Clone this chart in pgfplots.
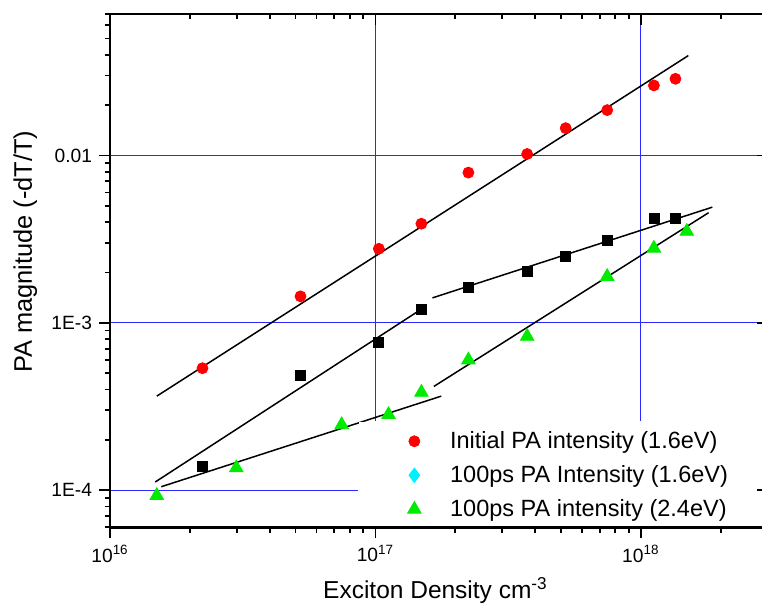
\documentclass[border=0pt]{standalone}
\usepackage{fontspec}
\setmainfont{Liberation Sans}
\usepackage{pgfplots}
\pgfplotsset{compat=1.18}
\definecolor{gridblue}{RGB}{40,40,255}
\definecolor{mgreen}{RGB}{0,235,0}
\definecolor{mcyan}{RGB}{0,240,255}
\newcommand{\tf}{\fontsize{9.6}{11}\selectfont}
\begin{document}
\begin{tikzpicture}
\begin{axis}[
  name=main,
  xmode=log, ymode=log,
  scale only axis, width=328.7pt, height=256.7pt,
  xmin=1e16, xmax=3e18, ymin=6e-5, ymax=0.07,
  xtick={1e16,1e17,1e18},
  ytick={1e-4,1e-3,1e-2},
  minor xtick={2e16,3e16,4e16,5e16,6e16,7e16,8e16,9e16,2e17,3e17,4e17,5e17,6e17,7e17,8e17,9e17,2e18,3e18},
  minor ytick={6e-5,7e-5,8e-5,9e-5,2e-4,3e-4,4e-4,5e-4,6e-4,7e-4,8e-4,9e-4,2e-3,3e-3,4e-3,5e-3,6e-3,7e-3,8e-3,9e-3,2e-2,3e-2,4e-2,5e-2,6e-2,7e-2},
  major tick length=5.5pt, minor tick length=2.75pt,
  every tick/.style={black, line width=0.9pt},
  axis line style={line width=1.3pt},
  xtick pos=left, ytick pos=left, tick align=outside,
  xticklabels={{\tf 10\textsuperscript{16}},{\tf 10\textsuperscript{17}},{\tf 10\textsuperscript{18}}},
  yticklabels={{\tf 1E-4},{\tf 1E-3},{\tf 0.01}},
  xticklabel style={font=\tf},
  yticklabel style={font=\tf},
  xlabel style={font=\fontsize{12.25}{14}\selectfont, at={(axis description cs:0.495,-0.123)}, anchor=center},
  ylabel style={font=\fontsize{12.7}{14}\selectfont, at={(axis description cs:-0.129,0.537)}, anchor=center},
  xlabel={Exciton Density cm\textsuperscript{-3}},
  ylabel={PA magnitude (-dT/T)},
  legend cell align=left,
  legend style={
    at={(rel axis cs:0.3775,0.206)}, anchor=north west,
    draw=none, fill=white,
    font=\fontsize{11.75}{14}\selectfont,
    inner xsep=24.5pt, inner ysep=2.6pt,
    row sep=3pt, column sep=12.5pt,
  },
]
% grid lines
\addplot[gridblue, line width=0.6pt, forget plot] coordinates {(1e16,1e-2) (3e18,1e-2)};
\addplot[gridblue, line width=0.6pt, forget plot] coordinates {(1e16,1e-3) (3e18,1e-3)};
\addplot[gridblue, line width=0.6pt, forget plot] coordinates {(1e16,1e-4) (8.6e16,1e-4)};
\addplot[gridblue, line width=0.6pt, forget plot] coordinates {(1e17,2.6e-4) (1e17,0.07)};
\addplot[gridblue, line width=0.6pt, forget plot] coordinates {(1e18,2.6e-4) (1e18,0.07)};
% fit lines
\addplot[black, line width=0.75pt, forget plot] coordinates {(1.50e16,3.65e-4) (1.51e18,3.95e-2)};
\addplot[black, line width=0.75pt, forget plot] coordinates {(1.48e16,1.12e-4) (1.445e17,1.17e-3)};
\addplot[black, line width=0.75pt, forget plot] coordinates {(1.64e17,1.41e-3) (1.86e18,4.91e-3)};
\addplot[black, line width=0.75pt, forget plot] coordinates {(1.56e16,1.05e-4) (1.77e17,3.65e-4)};
\addplot[black, line width=0.75pt, forget plot] coordinates {(1.66e17,4.17e-4) (1.80e18,4.55e-3)};
% black squares
\addplot[only marks, mark=square*, mark size=2.5pt, black, forget plot] coordinates {
(2.23e16,1.39e-4) (5.22e16,4.85e-4) (1.03e17,7.67e-4) (1.49e17,1.20e-3) (2.24e17,1.62e-3)
(3.73e17,2.02e-3) (5.21e17,2.51e-3) (7.47e17,3.13e-3) (1.12e18,4.23e-3) (1.35e18,4.23e-3)};
% red circles
\addplot[only marks, mark=*, mark size=2.75pt, red, mark options={draw=red, fill=red}] coordinates {
(2.23e16,5.36e-4) (5.22e16,1.44e-3) (1.03e17,2.77e-3) (1.49e17,3.91e-3) (2.24e17,7.9e-3)
(3.73e17,1.02e-2) (5.21e17,1.456e-2) (7.47e17,1.866e-2) (1.12e18,2.62e-2) (1.35e18,2.87e-2)};
\addlegendentry{Initial PA intensity (1.6eV)}
\addlegendimage{only marks, mark=diamond*, mark size=3.6pt, mcyan, mark options={draw=mcyan, fill=mcyan}}
\addlegendentry{100ps PA Intensity (1.6eV)}
% green triangles
\addplot[only marks, mark=triangle*, mark size=3.9pt, mgreen, mark options={draw=mgreen, fill=mgreen}] coordinates {
(1.50e16,9.3e-5) (2.99e16,1.36e-4) (7.46e16,2.46e-4) (1.12e17,2.83e-4) (1.49e17,3.84e-4)
(2.24e17,6.0e-4) (3.73e17,8.3e-4) (7.47e17,1.89e-3) (1.12e18,2.79e-3) (1.49e18,3.52e-3)};
\addlegendentry{100ps PA intensity (2.4eV)}
\end{axis}
\begin{axis}[
  xmode=log, ymode=log,
  scale only axis, width=328.7pt, height=256.7pt,
  xmin=1e16, xmax=3e18, ymin=6e-5, ymax=0.07,
  xtick={1e16,1e17,1e18},
  ytick={1e-4,1e-3,1e-2},
  minor xtick={2e16,3e16,4e16,5e16,6e16,7e16,8e16,9e16,2e17,3e17,4e17,5e17,6e17,7e17,8e17,9e17,2e18,3e18},
  minor ytick={6e-5,7e-5,8e-5,9e-5,2e-4,3e-4,4e-4,5e-4,6e-4,7e-4,8e-4,9e-4,2e-3,3e-3,4e-3,5e-3,6e-3,7e-3,8e-3,9e-3,2e-2,3e-2,4e-2,5e-2,6e-2,7e-2},
  major tick length=5.5pt, minor tick length=2.75pt,
  every tick/.style={black, line width=0.9pt},
  axis line style={line width=1.3pt},
  xtick pos=right, ytick pos=right, tick align=inside,
  xticklabels={}, yticklabels={},
]
\addplot[draw=none, forget plot] coordinates {(1e17,1e-3)};
\end{axis}
\pgfresetboundingbox
\path[use as bounding box] (main.south west) ++(-55pt,-42.8pt) rectangle ++(381pt,306.5pt);
\end{tikzpicture}
\end{document}
